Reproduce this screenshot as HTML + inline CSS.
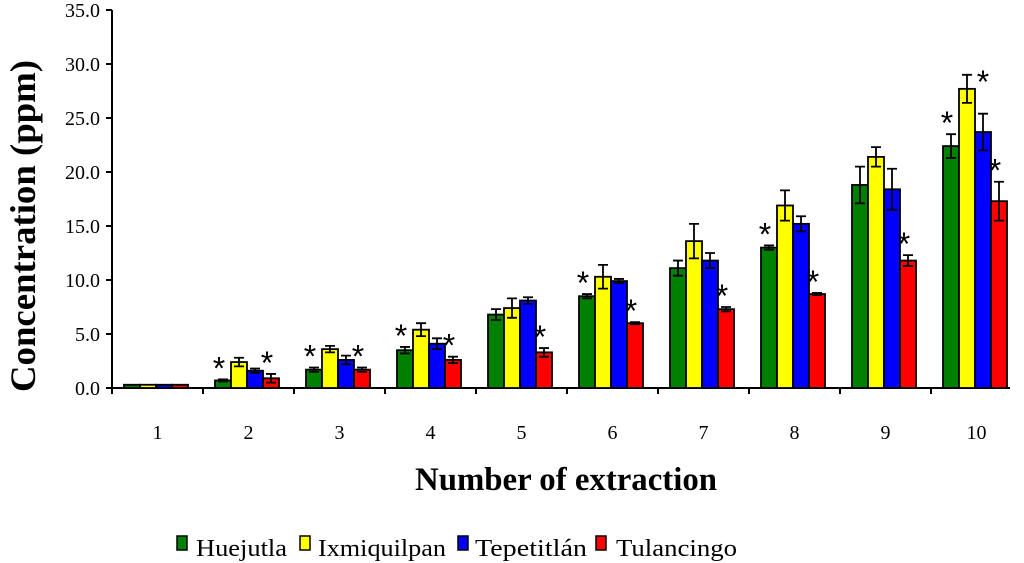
<!DOCTYPE html>
<html><head><meta charset="utf-8"><style>
html,body{margin:0;padding:0;background:#fff;}
svg{display:block;font-family:"Liberation Serif",serif;}
</style></head><body>
<svg id="chart" width="1024" height="563" viewBox="0 0 1024 563" xmlns="http://www.w3.org/2000/svg">
<g id="plot"></g>
<text transform="translate(35,226) rotate(-90)" text-anchor="middle" font-size="36" font-weight="bold" textLength="332" lengthAdjust="spacingAndGlyphs">Concentration (ppm)</text>
<text x="566" y="490" text-anchor="middle" font-size="33" font-weight="bold" textLength="302" lengthAdjust="spacingAndGlyphs">Number of extraction</text>
<g font-size="24">
 <rect x="177" y="536" width="10" height="14" fill="#008000" stroke="#000" stroke-width="1.5"/>
 <text x="196" y="556" textLength="91" lengthAdjust="spacingAndGlyphs">Huejutla</text>
 <rect x="300" y="536" width="10" height="14" fill="#ffff00" stroke="#000" stroke-width="1.5"/>
 <text x="318" y="556" textLength="128" lengthAdjust="spacingAndGlyphs">Ixmiquilpan</text>
 <rect x="458" y="536" width="10" height="14" fill="#0000ff" stroke="#000" stroke-width="1.5"/>
 <text x="475" y="556" textLength="112" lengthAdjust="spacingAndGlyphs">Tepetitlán</text>
 <rect x="596" y="536" width="10" height="14" fill="#ff0000" stroke="#000" stroke-width="1.5"/>
 <text x="616" y="556" textLength="121" lengthAdjust="spacingAndGlyphs">Tulancingo</text>
</g>
</svg>
<script>
const categories = ["1","2","3","4","5","6","7","8","9","10"];
const seriesNames = ["Huejutla","Ixmiquilpan","Tepetitlán","Tulancingo"];
const huejutla =    [0.3,0.7,1.7,3.5,6.8,8.5,11.1,13.0,18.8,22.4];
const ixmiquilpan = [0.3,2.4,3.6,5.4,7.4,10.3,13.6,16.9,21.4,27.7];
const tepetitlan =  [0.3,1.6,2.6,4.1,8.1,9.9,11.8,15.2,18.4,23.7];
const tulancingo =  [0.3,0.9,1.7,2.6,3.3,6.0,7.3,8.7,11.8,17.3];
const errHuejutla =    [0,0.1,0.2,0.3,0.5,0.2,0.7,0.2,1.7,1.1];
const errIxmiquilpan = [0,0.4,0.3,0.6,0.9,1.1,1.6,1.4,0.9,1.3];
const errTepetitlan =  [0,0.2,0.4,0.5,0.3,0.2,0.7,0.7,1.9,1.7];
const errTulancingo =  [0,0.4,0.2,0.3,0.4,0.1,0.2,0.1,0.5,1.8];
const starGroups = [1,1,2,2,3,3,4,5,5,6,7,7,8,9,9,9];
const starSeries = [0,3,0,3,0,3,3,0,3,3,0,3,3,0,1,3];
const yTicks = [0,5,10,15,20,25,30,35];

const NS="http://www.w3.org/2000/svg";
const plot=document.getElementById('plot');
const x0=112, groupW=91, y0=388, yMax=35, yTop=10;
const barW=16, barOff=12;
const ys=v=>y0-(v/yMax)*(y0-yTop);
const gx=i=>x0+i*groupW;
const colors=["#008000","#ffff00","#0000ff","#ff0000"];
const vals=[huejutla,ixmiquilpan,tepetitlan,tulancingo];
const errs=[errHuejutla,errIxmiquilpan,errTepetitlan,errTulancingo];
function mk(t,a){const e=document.createElementNS(NS,t);for(const k in a)e.setAttribute(k,a[k]);plot.appendChild(e);return e;}

let ax=mk('line',{x1:x0,y1:yTop,x2:x0,y2:y0,stroke:'#000','stroke-width':2});


let bx=mk('line',{x1:x0,y1:y0,x2:1010,y2:y0,stroke:'#000','stroke-width':2});


yTicks.forEach(v=>{
  const y=ys(v);
  const t=mk('line',{x1:x0-6,y1:y,x2:x0,y2:y,stroke:'#000','stroke-width':2});
  
  
  const l=mk('text',{x:x0-12,y:y+7,'text-anchor':'end','font-size':20});
  
  
  l.textContent=v.toFixed(1);
});
categories.forEach((c,i)=>{
  const t=mk('line',{x1:gx(i),y1:y0,x2:gx(i),y2:y0+6,stroke:'#000','stroke-width':2});
  
  
  const l=mk('text',{x:gx(i)+groupW/2,y:439,'text-anchor':'middle','font-size':20});
  
  
  l.textContent=c;
});
categories.forEach((c,i)=>{
  vals.forEach((arr,s)=>{
    const x=gx(i)+barOff+s*barW, v=arr[i], y=ys(v);
    const r=mk('rect',{x:x,y:y,width:barW,height:y0-y,fill:colors[s],stroke:'#000','stroke-width':1.8});
    
    
    const e=errs[s][i];
    if(e>0){
      const cx=x+barW/2, yt=ys(v+e), yb=ys(v-e);
      const g=mk('path',{d:`M${cx},${yt}V${yb}M${cx-5},${yt}H${cx+5}M${cx-5},${yb}H${cx+5}`,stroke:'#000','stroke-width':1.8,fill:'none'});
      
      
    }
  });
});
starGroups.forEach((gi,k)=>{
  const s=starSeries[k];
  const v=vals[s][gi]+errs[s][gi];
  let x=gx(gi)+barOff+s*barW+barW/2-4, y=ys(v)-12;
  if(gi===9 && s===1){x+=20;y+=18;}
  const t=mk('text',{x:x,y:y+12,'text-anchor':'middle','font-size':32,'font-family':'"Liberation Sans",sans-serif'});
  
  
  t.textContent='*';
});
</script>
</body></html>
